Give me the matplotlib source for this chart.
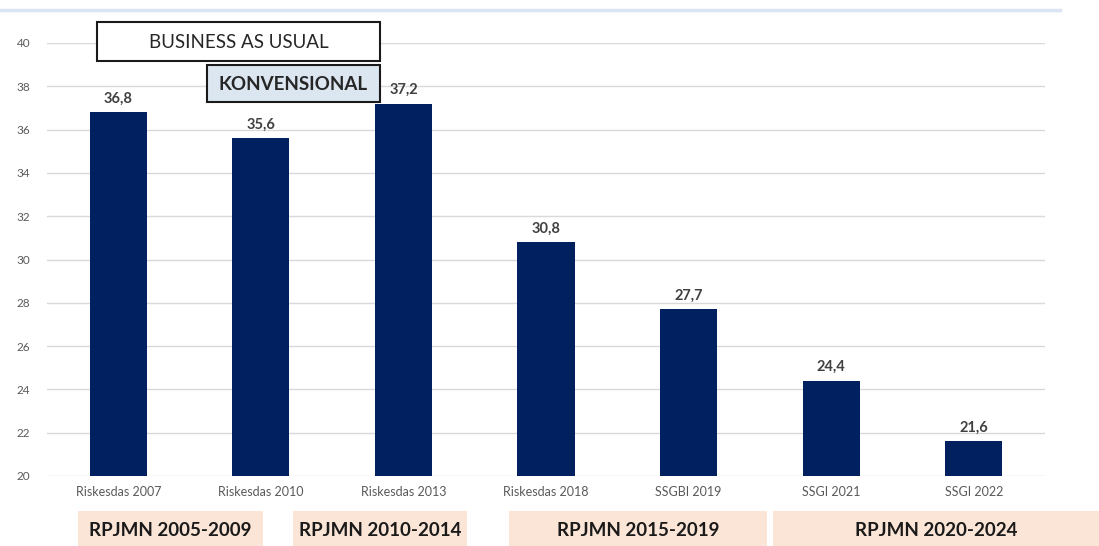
import matplotlib
matplotlib.use("Agg")
import matplotlib.pyplot as plt
from matplotlib.patches import Rectangle
from matplotlib.lines import Line2D

categories = ["Riskesdas 2007", "Riskesdas 2010", "Riskesdas 2013", "Riskesdas 2018",
              "SSGBI 2019", "SSGI 2021", "SSGI 2022"]
values = [36.8, 35.6, 37.2, 30.8, 27.7, 24.4, 21.6]
value_labels = ["36,8", "35,6", "37,2", "30,8", "27,7", "24,4", "21,6"]
yticks = [20, 22, 24, 26, 28, 30, 32, 34, 36, 38, 40]
periods = ["RPJMN 2005-2009", "RPJMN 2010-2014", "RPJMN 2015-2019", "RPJMN 2020-2024"]

plt.rcParams['font.family'] = ['Lato', 'DejaVu Sans']

W, H = 1099, 546
fig = plt.figure(figsize=(W / 100, H / 100), dpi=100)
ax = fig.add_axes([47 / W, 1 - 476 / H, (1045 - 47) / W, (476 - 43) / H])

x = list(range(len(categories)))
ax.bar(x, [v - 20 for v in values], bottom=20, width=0.4, color="#002060", zorder=3)
for xi, v, lab in zip(x, values, value_labels):
    ax.text(xi, v + 0.3, lab, ha="center", va="bottom", fontsize=10.5,
            fontweight="bold", color="#404040")

ax.set_xlim(-0.5, 6.5)
ax.set_ylim(20, 40)
ax.set_yticks(yticks)
ax.set_yticklabels([str(t) for t in yticks], fontsize=8.5, color="#595959")
ax.set_xticks(x)
ax.set_xticklabels(categories, fontsize=9, color="#595959")
ax.tick_params(axis="both", length=0)
ax.tick_params(axis="y", pad=12)
ax.tick_params(axis="x", pad=7)
ax.grid(axis="y", color="#d9d9d9", linewidth=1, zorder=0)
for s in ax.spines.values():
    s.set_visible(False)

# top decorative line
fig.add_artist(Line2D([0, 1060 / W], [1 - 10 / H, 1 - 10 / H], transform=fig.transFigure,
                      color="#dbe5f1", linewidth=2.5))

def fig_box(x0, y0, x1, y1, fc, ec, lw):
    r = Rectangle((x0 / W, 1 - y1 / H), (x1 - x0) / W, (y1 - y0) / H,
                  transform=fig.transFigure, facecolor=fc, edgecolor=ec, linewidth=lw)
    fig.add_artist(r)

# annotation boxes
fig_box(97, 22, 380, 61, "white", "#1a1a1a", 1.5)
fig.text((97 + 380) / 2 / W, 1 - 42 / H, "BUSINESS AS USUAL", ha="center", va="center",
         fontsize=13.5, color="#262626")
fig_box(207, 65, 380, 102, "#dce6f1", "#1a1a1a", 1.5)
fig.text((207 + 380) / 2 / W, 1 - 84 / H, "KONVENSIONAL", ha="center", va="center",
         fontsize=13.5, fontweight="bold", color="#262626")

# period boxes
period_boxes = [(78, 263), (293, 467), (509, 767), (773, 1099)]
for (x0, x1), lab in zip(period_boxes, periods):
    fig_box(x0, 511, x1, 546, "#fbe5d6", "none", 0)
    fig.text((x0 + x1) / 2 / W, 1 - 531 / H, lab, ha="center", va="center",
             fontsize=13.5, fontweight="bold", color="#1a1a1a")

fig.savefig("out.png", dpi=100)
